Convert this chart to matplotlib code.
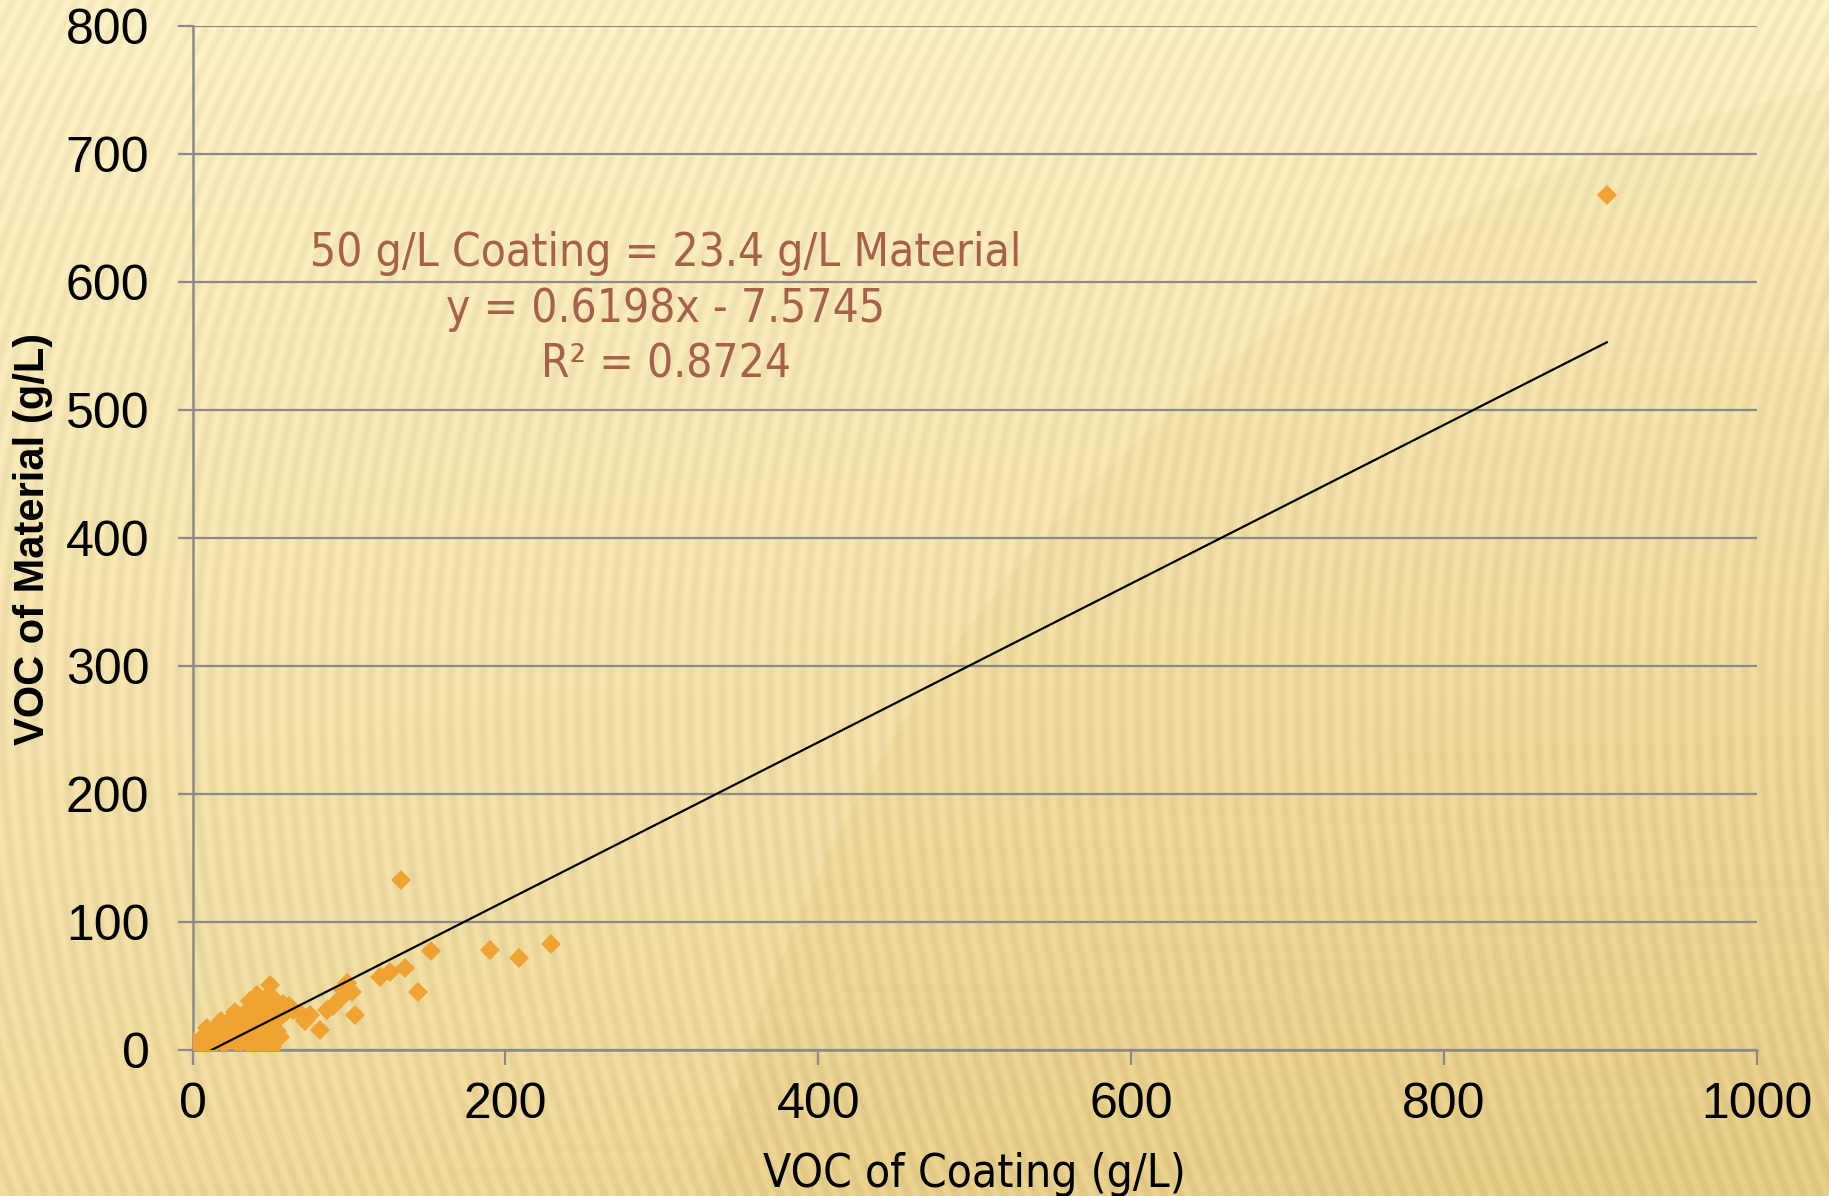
import numpy as np
import matplotlib
matplotlib.use("Agg")
import matplotlib.pyplot as plt

# ---- data ----
coating = [0, 1, 3, 5, 6, 8, 9, 10, 12, 13, 15, 16, 18, 18, 20, 20, 22, 24, 25, 26,
           27, 28, 30, 30, 32, 33, 34, 35, 36, 37, 38, 38, 40, 40, 41, 42, 43, 44, 45, 45,
           46, 47, 48, 48, 49, 49.5, 50, 50, 50, 50, 50, 51, 51, 52, 52, 53, 54, 55, 56, 56,
           58, 60, 62, 64, 69, 72, 75, 81.5, 86, 90, 94, 96.4, 98.6, 101.7, 104, 120, 126,
           136, 144, 133, 152.5, 190, 209, 229, 904]
material = [0, 6, 4, 8, 3, 12, 17, 6, 14, 4, 16, 9, 20, 23, 12, 5, 18, 22, 8, 26,
            30, 15, 24, 4, 20, 12, 28, 6, 32, 38, 24, 3, 18, 35, 43, 10, 28, 2, 22, 38,
            14, 32, 5, 42, 25, 50.7, 0, 8, 18, 30, 36, 12, 2, 22, 40, 28, 15, 33, 26, 10,
            36, 30, 34, 31, 29, 23, 27, 15.6, 31, 34, 40, 47, 52, 45.5, 27.3, 57, 61,
            64, 45.5, 133, 77, 78, 71.5, 83, 668]
slope = 0.6198
intercept = -7.5745
r2 = 0.8724
xticks = [0, 200, 400, 600, 800, 1000]
yticks = [0, 100, 200, 300, 400, 500, 600, 700, 800]

W, H = 1829, 1196
fig = plt.figure(figsize=(W / 100, H / 100), dpi=100)

# ---- background: cream-to-gold gradient with faint diagonal stripes ----
h, w = 598, 915
yy, xx = np.mgrid[0:h, 0:w]
xn, yn = xx / w, yy / h
t = 0.12 + 0.55 * yn + 0.25 * xn * yn
circ = np.sqrt((xn - 1.15) ** 2 + ((yn - 1.25) * 0.65) ** 2)
t = t + 0.12 * (circ < 0.78)
t = np.clip(t, 0, 1)
c1 = np.array([253, 242, 202]) / 255
c2 = np.array([228, 203, 132]) / 255
img = c1[None, None, :] * (1 - t[..., None]) + c2[None, None, :] * t[..., None]
k = 0.45 * (1 - yn) + 0.08
stripes = np.sin(2 * np.pi * (xx + k * yy) / 8.0)
img = img + (stripes[..., None] * 0.025)
img = np.clip(img, 0, 1)
bg = fig.add_axes([0, 0, 1, 1], zorder=-10)
bg.imshow(img, aspect="auto", extent=[0, 1, 0, 1], interpolation="bilinear")
bg.axis("off")

# ---- main axes ----
ax = fig.add_axes([192.5 / W, 1 - 1050 / H, (1757 - 192.5) / W, (1050 - 25.7) / H])
ax.set_facecolor("none")
ax.set_xlim(0, 1000)
ax.set_ylim(0, 800)
ax.set_xticks(xticks)
ax.set_yticks(yticks)
gray = "#8A8A8A"
ax.grid(axis="y", color=gray, linewidth=1.6)
ax.set_axisbelow(True)
for s in ["top", "right"]:
    ax.spines[s].set_visible(False)
for s in ["left", "bottom"]:
    ax.spines[s].set_color(gray)
    ax.spines[s].set_linewidth(1.8)
ax.tick_params(axis="both", direction="out", length=11, width=1.6, color=gray,
               labelsize=36, labelcolor="black")
ax.tick_params(axis="y", pad=20)
ax.tick_params(axis="x", pad=12)
for lab in ax.get_xticklabels() + ax.get_yticklabels():
    lab.set_fontfamily(["Liberation Sans", "DejaVu Sans"])

ax.plot(coating, material, linestyle="none", marker="D", markersize=10,
        color="#F0A232", markeredgewidth=0, zorder=3)

xl = np.array([0, max(coating)])
ax.plot(xl, slope * xl + intercept, color="black", linewidth=1.6, zorder=4)

txt_color = "#A5614A"
ax.text((666 - 192.5) / 1.5645, (1050 - 308) / 1.2825,
        "50 g/L Coating = 23.4 g/L Material\n"
        f"y = {slope}x - {abs(intercept)}\n"
        f"R\u00b2 = {r2}",
        ha="center", va="center", fontsize=33, color=txt_color,
        family="DejaVu Sans", fontstretch="condensed", linespacing=1.3, zorder=5)

fig.text(974 / W, 1 - 1187 / H, "VOC of Coating (g/L)", ha="center", va="baseline",
         fontsize=33, family="DejaVu Sans", fontstretch="condensed")
fig.text(33 / W, 1 - 539 / H, "VOC of Material (g/L)", ha="center", va="center",
         rotation=90, fontsize=30, fontweight="bold",
         family=["Liberation Sans", "DejaVu Sans"])

fig.savefig("out.png", dpi=100)
